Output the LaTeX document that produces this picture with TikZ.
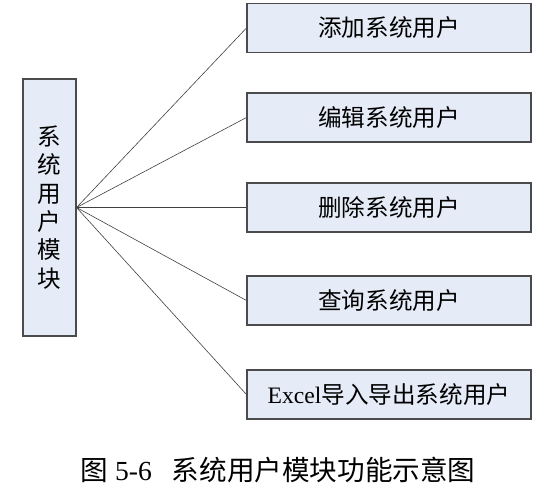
\documentclass[tikz,border=0pt]{standalone}
\usepackage{fontspec}
\setmainfont{Liberation Serif}
\newfontfamily\cjk{Noto Sans CJK SC}
\usepackage{tikz}
\usetikzlibrary{positioning}
\definecolor{boxfill}{RGB}{230,236,247}
\definecolor{boxline}{RGB}{75,75,75}
\tikzstyle{func} = [rectangle, draw=boxline, fill=boxfill, line width=1.1pt, minimum width=284pt, minimum height=49pt, inner sep=0pt, font=\fontsize{23.6}{28.4}\selectfont]
\tikzstyle{link} = [draw=black!75, line width=0.6pt]

\begin{document}
\begin{tikzpicture}[x=1pt, y=-1pt]
\useasboundingbox (0,0) rectangle (544,494);
    \node[func, minimum width=53pt, minimum height=257pt, align=center] (mod) at (49.5,207.5) {
    \cjk 系\\ \cjk 统\\ \cjk 用\\ \cjk 户\\ \cjk 模\\ \cjk 块
};

\node[func] (add) at (389,28) {\cjk 添加系统用户};
\node[func] (edit) at (389,117.5) {\cjk 编辑系统用户};
\node[func] (del) at (389,207.5) {\cjk 删除系统用户};
\node[func] (query) at (389,300.5) {\cjk 查询系统用户};
\node[func] (excel) at (389,394.5) {Excel{\cjk 导入导出系统用户}};

\node (cap) at (278,470) {\fontsize{27.6}{32}\selectfont{\cjk 图} 5-6\hspace{20pt}{\cjk 系统用户模块功能示意图}};

\draw[link] (mod.east) -- (add.west);
\draw[link] (mod.east) -- (edit.west);
\draw[link] (mod.east) -- (del.west);
\draw[link] (mod.east) -- (query.west);
\draw[link] (mod.east) -- (excel.west);
\end{tikzpicture}
\end{document}
